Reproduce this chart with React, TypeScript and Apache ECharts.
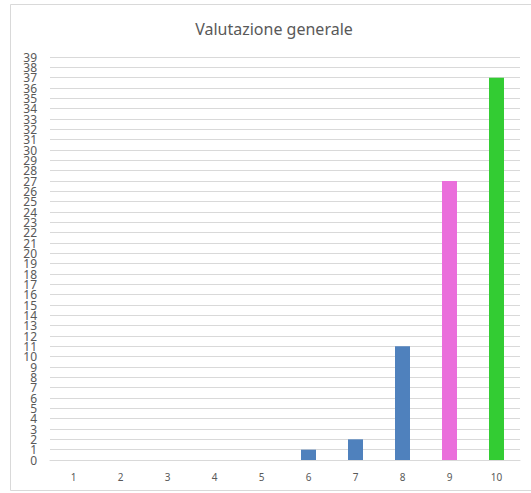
import React, { useEffect, useRef } from "react";
import * as echarts from "echarts";

const categories = ["1", "2", "3", "4", "5", "6", "7", "8", "9", "10"];
const values = [0, 0, 0, 0, 0, 1, 2, 11, 27, 37];
const barColors = ["#4F81BD", "#4F81BD", "#4F81BD", "#4F81BD", "#4F81BD", "#4F81BD", "#4F81BD", "#4F81BD", "#EA6FDB", "#33CC33"];
const yTickLabels = Array.from({ length: 40 }, (_, i) => String(i));
const titleText = "Valutazione generale";

export default function App() {
  const ref = useRef<HTMLDivElement>(null);
  useEffect(() => {
    if (!ref.current) return;
    const chart = echarts.init(ref.current, null, { renderer: "svg" });
    chart.setOption({
      animation: false,
      backgroundColor: "#ffffff",
      textStyle: { fontFamily: "Noto Sans" },
      title: {
        text: titleText,
        left: 269,
        top: 16,
        textAlign: "center",
        textStyle: { fontSize: 16, fontWeight: "normal", color: "#595959", fontFamily: "Noto Sans" },
      },
      graphic: [
        {
          type: "rect",
          shape: { x: 10.5, y: 4.5, width: 540, height: 486 },
          style: { fill: "none", stroke: "#d9d9d9", lineWidth: 1 },
          silent: true,
        },
      ],
      grid: { left: 50, right: 11, top: 57, bottom: 33, containLabel: false },
      xAxis: {
        type: "category",
        data: categories,
        axisLine: { show: true, lineStyle: { color: "#d9d9d9" } },
        axisTick: { show: false },
        axisLabel: { color: "#595959", fontSize: 10, margin: 12 },
      },
      yAxis: [
        {
          type: "value",
          min: 0,
          max: 39,
          interval: 1,
          axisLine: { show: false },
          axisTick: { show: false },
          splitLine: { lineStyle: { color: "#d9d9d9", width: 1 } },
          axisLabel: { show: false },
        },
        {
          type: "category",
          position: "left",
          data: yTickLabels,
          boundaryGap: false,
          axisLine: { show: false },
          axisTick: { show: false },
          splitLine: { show: false },
          axisLabel: { interval: 0, color: "#595959", fontSize: 12, margin: 13 },
        },
      ],
      series: [
        {
          type: "bar",
          yAxisIndex: 0,
          data: values.map((v, i) => ({ value: v, itemStyle: { color: barColors[i] } })),
          barWidth: 15,
        },
      ],
    });
    return () => chart.dispose();
  }, []);
  return <div ref={ref} style={{ position: "absolute", left: 0, top: 0, width: 531, height: 493 }} />;
}
